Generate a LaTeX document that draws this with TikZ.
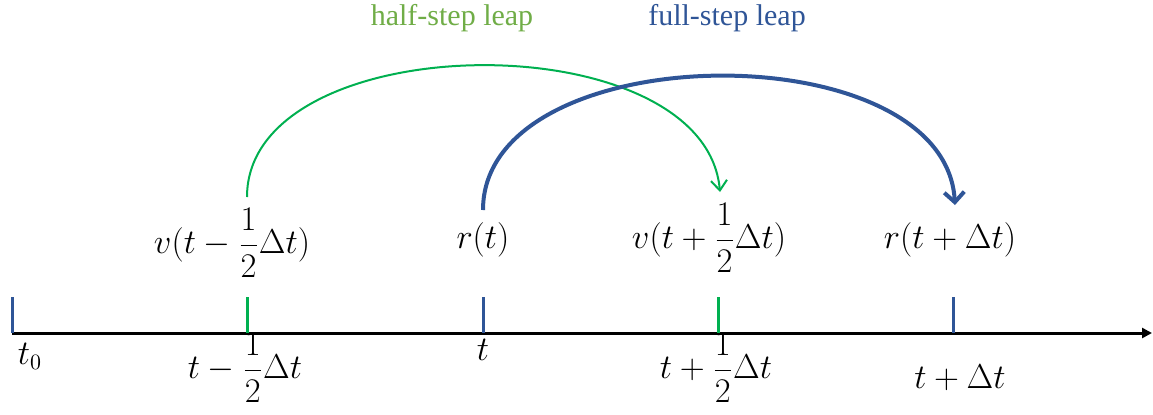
\documentclass[tikz,border=0pt]{standalone}
\usepackage{fontspec}
\setmainfont{Liberation Serif}
\usetikzlibrary{arrows.meta,positioning}
\definecolor{leapgreen}{HTML}{00B050}
\definecolor{titlegreen}{HTML}{70AD47}
\definecolor{leapblue}{HTML}{2F5597}
\tikzset{
  tickmark/.style={line width=1.5pt},
  steplabel/.style={inner sep=1pt,font=\fontsize{16}{19}\selectfont},
}
\begin{document}
\begin{tikzpicture}[x=0.5pt,y=-0.5pt,font=\fontsize{15}{18}\selectfont]
\useasboundingbox (0,0) rectangle (1153,414);
% time axis
\coordinate (axstart) at (12,333);
\coordinate (axend) at (1152,333);
\draw[line width=1.5pt,-{Triangle[length=5pt,width=5pt]}] (axstart) -- (axend);
% ticks
\coordinate (k0) at (12,297);
\coordinate (k1) at (247,297);
\coordinate (k2) at (483,297);
\coordinate (k3) at (718,297);
\coordinate (k4) at (953,297);
\draw[tickmark, leapblue] (k0) -- (k0 |- axstart);
\draw[tickmark, leapgreen] (k1) -- (k1 |- axstart);
\draw[tickmark, leapblue] (k2) -- (k2 |- axstart);
\draw[tickmark, leapgreen] (k3) -- (k3 |- axstart);
\draw[tickmark, leapblue] (k4) -- (k4 |- axstart);
% time labels
\node[steplabel] (t0) at (30,356) {$t_0$};
\node[steplabel] (tmh) at (245,368) {$\displaystyle t-\frac{1}{2}\Delta t$};
\node[steplabel] (tt) at (483,350) {$t$};
\node[steplabel] (tph) at (716,368) {$\displaystyle t+\frac{1}{2}\Delta t$};
\node[steplabel] (tpf) at (960,378) {$t+\Delta t$};
% quantities
\node[steplabel] (vmh) at (232,243) {$\displaystyle v(t-\frac{1}{2}\Delta t)$};
\node[steplabel] (rt) at (483,240) {$r(t)$};
\node[steplabel] (vph) at (709,238) {$\displaystyle v(t+\frac{1}{2}\Delta t)$};
\node[steplabel] (rpf) at (950,240) {$r(t+\Delta t)$};
% leaps
\coordinate (gs) at (247,197);
\coordinate (ge) at (720,192);
\coordinate (bs) at (483,210);
\coordinate (be) at (955,205);
\draw[leapgreen, line width=1pt, -{Straight Barb[length=5pt,width=8pt]}]
  (gs) .. controls (247,25) and (705,20) .. (ge);
\draw[leapblue, line width=2pt, -{Straight Barb[length=5pt,width=10pt]}]
  (bs) .. controls (483,35) and (945,30) .. (be);
% titles
\node[text=titlegreen] (half) at (452,18) {half-step leap};
\node[text=leapblue] (full) at (727,18) {full-step leap};
\end{tikzpicture}
\end{document}
